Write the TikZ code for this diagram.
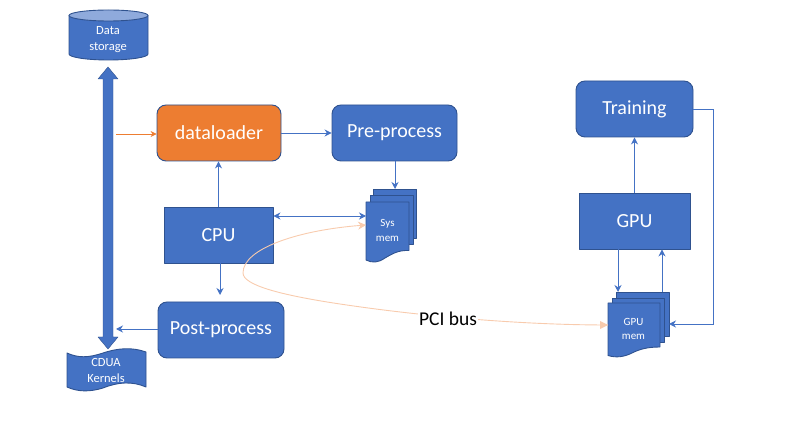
\documentclass[tikz,border=0pt]{standalone}
\usepackage{fontspec}
\setmainfont{Carlito}
\usetikzlibrary{arrows.meta}
\definecolor{bluefill}{HTML}{4472C4}
\definecolor{blueedge}{HTML}{2F528F}
\definecolor{bluelight}{HTML}{8FAADC}
\definecolor{orangefill}{HTML}{ED7D31}
\definecolor{peach}{HTML}{F8CBAD}
\tikzset{
  x=1pt,y=-1pt,
  shapeedge/.style={fill=bluefill,draw=blueedge,line width=0.9pt,line join=round},
  boxbase/.style={shapeedge,text=white,inner sep=0pt,font=\fontsize{20}{22}\selectfont},
  flatbox/.style={boxbase,rectangle},
  roundbox/.style={boxbase,rectangle,rounded corners=9pt},
  smalltext/.style={text=white,inner sep=0pt,align=center,font=\fontsize{12.5}{16}\selectfont},
  memtext/.style={text=white,inner sep=0pt,align=center,font=\fontsize{11}{14.5}\selectfont},
  conn/.style={draw=bluefill,line width=0.9pt,-{Stealth[length=7pt,width=7pt]}},
  twoconn/.style={draw=bluefill,line width=0.9pt,{Stealth[length=7pt,width=7pt]}-{Stealth[length=7pt,width=7pt]}},
  orangeconn/.style={draw=orangefill,line width=0.7pt,-{Stealth[length=6pt,width=6pt]}},
  peachconn/.style={draw=peach,line width=0.9pt,-{Stealth[length=8pt,width=8pt]}},
}
\begin{document}
\begin{tikzpicture}
\useasboundingbox (0,0) rectangle (793,438);
% Data storage
\path[shapeedge] (69,16) -- (69,54) arc[x radius=39.5,y radius=6,start angle=180,end angle=0] -- (148,16) -- cycle;
\path[fill=bluelight,draw=blueedge,line width=0.9pt] (108.5,15.5) ellipse[x radius=39.5,y radius=5.5];
\node[smalltext] (storage) at (108,39.5) {Data\\storage};
% Double arrow
\path[shapeedge,line width=0.4pt] (108,67) -- (118,79) -- (113,79) -- (113,337) -- (118,337) -- (108,349) -- (98,337) -- (103,337) -- (103,79) -- (98,79) -- cycle;
% CDUA Kernels
\path[shapeedge] (67,353) .. controls (78,358) and (88,358) .. (103,353)
  .. controls (118,348) and (132,347) .. (146,352) -- (146,387)
  .. controls (132,381) and (118,382) .. (103,388)
  .. controls (90,392) and (78,392) .. (67,387) -- cycle;
\node[smalltext] (kernels) at (106,370) {CDUA\\Kernels};
% Boxes
\node[roundbox,fill=orangefill,minimum width=124pt,minimum height=56pt] (dl) at (219,133) {\raisebox{-1pt}{dataloader}};
\node[roundbox,minimum width=125pt,minimum height=56pt] (pre) at (394.5,133) {Pre-process};
\node[flatbox,minimum width=109pt,minimum height=56pt] (cpu) at (218.5,235) {CPU};
\node[roundbox,minimum width=126pt,minimum height=56pt] (post) at (221,330) {Post-process};
\node[roundbox,minimum width=117pt,minimum height=56pt] (train) at (634.5,109) {\raisebox{-1pt}{Training}};
\node[flatbox,minimum width=111pt,minimum height=56pt] (gpu) at (634.5,221) {GPU};
% Sys mem
\path[shapeedge] (373,189) -- (416.5,189) -- (416.5,238) -- (373,238) -- cycle;
\path[shapeedge] (370,195) -- (413,195) -- (413,244) -- (370,244) -- cycle;
\path[shapeedge] (366,202) -- (409,202) -- (409,250.5)
  .. controls (398,250) and (392,254) .. (385,258)
  .. controls (378,263) and (372,263) .. (366,260) -- cycle;
\node[memtext] (sys) at (387.5,230.5) {Sys\\mem};
\coordinate (systop) at (395,189);
% GPU mem
\path[shapeedge] (616,292) -- (669,292) -- (669,336) -- (616,336) -- cycle;
\path[shapeedge] (612,298) -- (664.5,298) -- (664.5,342) -- (612,342) -- cycle;
\path[shapeedge] (608,303) -- (660,303) -- (660,347)
  .. controls (648,347) and (640,349) .. (632,353)
  .. controls (624,357) and (616,358) .. (608,355.5) -- cycle;
\node[memtext] (gmem) at (633.5,329) {GPU\\mem};
\coordinate (gmemA) at (618,292);
\coordinate (gmemB) at (662,292);
\coordinate (gmemR) at (669,324);
% Connectors
\coordinate (orangestart) at (116,134);
\draw[orangeconn] (orangestart) -- (orangestart -| dl.west);
\draw[conn] (dl.east) -- (pre.west);
\draw[conn] (pre.south -| systop) -- (systop);
\draw[conn] (cpu.north) -- (cpu.north |- dl.south);
\coordinate (sysL) at (366,216);
\draw[twoconn] (cpu.east |- sysL) -- (sysL);
\coordinate (postend) at (220,295);
\draw[conn] (cpu.south -| postend) -- (postend);
\coordinate (arrowside) at (116,329);
\draw[conn] (post.west |- arrowside) -- (arrowside);
\draw[conn] (gpu.north) -- (train.south);
\draw[conn] (gpu.south -| gmemA) -- (gmemA);
\draw[conn] (gmemB) -- (gpu.south -| gmemB);
\draw[conn] (train.east) -- (713,109) -- (713,324) -- (gmemR);
% PCI bus
\coordinate (sysP) at (366,225);
\coordinate (gmemP) at (608,325);
\draw[peachconn] (gmemP) .. controls (520,325) and (420,316) .. (340,304)
  .. controls (280,295) and (243,285) .. (243,273)
  .. controls (243,248) and (300,230) .. (sysP);
\fill[peach] (608,325) -- (600,321) -- (600,329) -- cycle;
\node[fill=white,inner xsep=1pt,inner ysep=0pt,font=\fontsize{19.5}{21}\selectfont,text=black] (pci) at (448,319) {PCI bus};
\end{tikzpicture}
\end{document}
